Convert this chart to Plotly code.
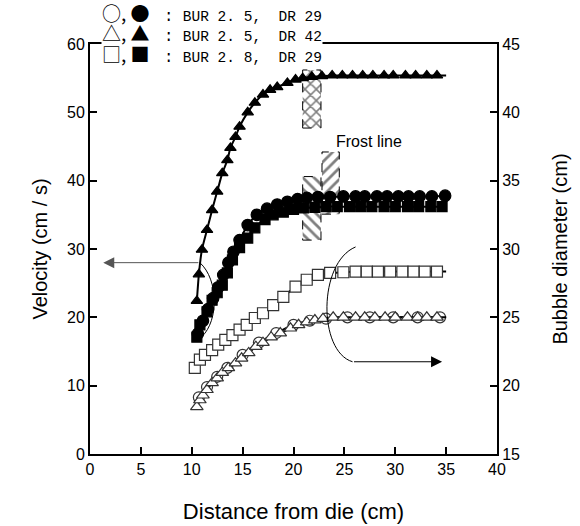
import plotly.graph_objects as go

# ---------------- data ----------------
# Velocity (left axis, cm/s) - filled markers
vel_c_x = [10.6, 11.1, 11.6, 12.1, 12.6, 13.1, 13.6, 14.1, 14.7, 15.5, 16.4, 17.4, 18.4, 19.4, 20.4,
           21.3, 22.4, 23.6, 24.9, 26.1, 27.0, 28.2, 29.2, 30.3, 31.3, 32.4, 33.6, 34.9]
vel_c_y = [17.6, 19.5, 21.2, 22.8, 24.4, 26.2, 28.0, 29.6, 31.3, 33.5, 35.0, 35.9, 36.5, 36.9, 37.3,
           37.5, 37.6, 37.6, 37.7, 37.7, 37.7, 37.7, 37.7, 37.7, 37.7, 37.7, 37.7, 37.8]

vel_t_x = [10.5, 10.7, 11.0, 11.5, 12.0, 12.5, 13.0, 13.5, 13.8, 14.3, 14.7, 15.5, 16.2, 17.0, 17.7,
           18.4, 19.4, 20.2, 20.9, 21.8, 22.8, 23.8, 24.8, 25.8, 26.8, 27.8, 28.9, 29.8, 31.0, 32.0,
           33.1, 34.1]
vel_t_y = [22.4, 26.3, 29.9, 32.8, 35.7, 38.4, 41.1, 43.0, 44.8, 46.4, 47.9, 50.0, 51.4, 52.6, 53.3,
           53.7, 54.3, 54.8, 55.0, 55.2, 55.3, 55.4, 55.4, 55.4, 55.4, 55.4, 55.4, 55.4, 55.4, 55.4,
           55.4, 55.4]

vel_s_x = [10.5, 10.8, 11.5, 12.0, 12.5, 13.0, 13.5, 14.0, 14.7, 15.5, 16.2, 17.2, 18.0, 19.0, 20.0,
           21.0, 22.1, 23.2, 24.3, 25.5, 26.6, 27.7, 28.9, 30.0, 31.2, 32.3, 33.5, 34.6]
vel_s_y = [17.1, 18.9, 20.8, 22.5, 23.6, 24.7, 26.5, 28.4, 30.2, 31.6, 33.1, 34.3, 35.0, 35.4, 35.8,
           36.0, 36.1, 36.2, 36.2, 36.2, 36.2, 36.2, 36.2, 36.2, 36.2, 36.2, 36.2, 36.2]

# Bubble diameter (right axis, cm) - open markers
bub_c_x = [10.7, 11.5, 12.5, 13.5, 15.0, 16.6, 18.3, 20.0, 21.6, 23.2, 25.3, 27.5, 29.8, 32.2, 34.4]
bub_c_y = [19.15, 19.9, 20.65, 21.3, 22.25, 23.15, 23.85, 24.45, 24.75, 24.9, 25.0, 25.0, 25.0, 25.0, 25.0]

bub_t_x = [10.5, 10.8, 11.1, 11.5, 12.0, 12.5, 13.0, 13.6, 14.3, 14.9, 15.6, 16.3, 17.0, 17.8, 18.7,
           19.7, 20.5, 21.3, 22.1, 22.9, 23.9, 24.9, 26.1, 27.0, 28.0, 29.0, 30.0, 31.2, 32.2, 33.1, 34.1]
bub_t_y = [18.45, 18.95, 19.3, 19.7, 20.2, 20.55, 20.95, 21.3, 21.65, 22.0, 22.4, 22.85, 23.15, 23.55,
           23.85, 24.2, 24.45, 24.65, 24.8, 24.9, 25.0, 25.0, 25.0, 25.0, 25.0, 25.0, 25.0, 25.0, 25.0,
           25.0, 25.0]

bub_s_x = [10.3, 10.8, 11.3, 12.0, 12.6, 13.3, 14.0, 14.7, 15.4, 16.2, 17.0, 18.0, 19.0, 20.2, 21.3,
           22.4, 23.6, 24.9, 26.1, 27.2, 28.3, 29.5, 30.7, 31.8, 32.9, 34.1]
bub_s_y = [21.3, 21.9, 22.25, 22.6, 23.0, 23.35, 23.7, 24.1, 24.45, 24.95, 25.3, 25.9, 26.5, 27.25,
           27.75, 28.1, 28.25, 28.3, 28.35, 28.35, 28.35, 28.35, 28.35, 28.35, 28.35, 28.35]

fit_end_x = 35.0

# Frost line boxes (x range in cm, y range in velocity units)
box_x0 = [20.9, 20.9, 22.8]
box_x1 = [22.7, 22.7, 24.5]
box_y0 = [47.7, 31.3, 35.1]
box_y1 = [56.2, 40.6, 44.2]
box_pattern = ["x", "\\", "/"]

# Arrows / brackets (x in cm, y in velocity units)
left_arrow = dict(x_tip=1.3, x_tail=10.8, y=28.0)
left_arc = dict(x0=10.8, y0=28.0, cx=12.65, y_c1=25.5, y_c2=19.5, x1=11.0, y1=17.2)
right_arc = dict(x0=26.1, y0=30.3, cx=22.4, y_c1=28.0, y_c2=15.0, x1=25.8, y1=13.5)
right_arrow = dict(x_tip=34.6, x_tail=25.8, y=13.5)

x_ticks = [0, 5, 10, 15, 20, 25, 30, 35, 40]
legend_rows = [("○, ●", "BUR 2. 5,  DR 29"),
               ("△, ▲", "BUR 2. 5,  DR 42"),
               ("□, ■", "BUR 2. 8,  DR 29")]

# ---------------- figure ----------------
fig = go.Figure()
AX = "Liberation Sans"

# hatched boxes (bars with pattern)
for x0, x1, y0, y1, pat in zip(box_x0, box_x1, box_y0, box_y1, box_pattern):
    fig.add_trace(go.Bar(x=[(x0 + x1) / 2], width=[x1 - x0], base=[y0], y=[y1 - y0],
                         marker=dict(color="white", line=dict(width=0),
                                     pattern=dict(shape=pat, fgcolor="black", bgcolor="white",
                                                  size=8, solidity=0.35)),
                         showlegend=False, hoverinfo="skip"))
ox, oy = [], []
for x0, x1, y0, y1 in zip(box_x0, box_x1, box_y0, box_y1):
    ox += [x0, x1, x1, x0, x0, None]
    oy += [y0, y0, y1, y1, y0, None]
fig.add_trace(go.Scatter(x=ox, y=oy, mode="lines", line=dict(color="black", width=1, dash="dash"),
                         showlegend=False, hoverinfo="skip"))


def add_series(xs, ys, symbol, fill, yaxis, size):
    fig.add_trace(go.Scatter(x=xs + [fit_end_x], y=ys + [ys[-1]], mode="lines", yaxis=yaxis,
                             line=dict(color="black", width=2, shape="spline", smoothing=0.6),
                             showlegend=False, hoverinfo="skip"))
    fig.add_trace(go.Scatter(x=xs, y=ys, mode="markers", yaxis=yaxis,
                             marker=dict(symbol=symbol, size=size, color=fill,
                                         line=dict(color="#333" if fill == "white" else "black", width=1.2)),
                             showlegend=False))


add_series(vel_s_x, vel_s_y, "square", "black", "y", 10)
add_series(vel_c_x, vel_c_y, "circle", "black", "y", 11.5)
add_series(vel_t_x, vel_t_y, "triangle-up", "black", "y", 10)
add_series(bub_s_x, bub_s_y, "square", "white", "y2", 11)
add_series(bub_c_x, bub_c_y, "circle", "white", "y2", 11)
add_series(bub_t_x, bub_t_y, "triangle-up", "white", "y2", 11)

# brackets
la, ra = left_arc, right_arc
fig.add_shape(type="path", xref="x", yref="y", line=dict(color="black", width=1),
              path=f"M {la['x0']},{la['y0']} C {la['cx']},{la['y_c1']} {la['cx']},{la['y_c2']} {la['x1']},{la['y1']}")
fig.add_shape(type="path", xref="x", yref="y", line=dict(color="black", width=1),
              path=f"M {ra['x0']},{ra['y0']} C {ra['cx']},{ra['y_c1']} {ra['cx']},{ra['y_c2']} {ra['x1']},{ra['y1']}")

fig.add_annotation(x=left_arrow["x_tip"], y=left_arrow["y"], ax=left_arrow["x_tail"], ay=left_arrow["y"],
                   xref="x", yref="y", axref="x", ayref="y", showarrow=True, text="",
                   arrowhead=2, arrowsize=2.2, arrowwidth=1, arrowcolor="#555")
fig.add_annotation(x=right_arrow["x_tip"], y=right_arrow["y"], ax=right_arrow["x_tail"], ay=right_arrow["y"],
                   xref="x", yref="y", axref="x", ayref="y", showarrow=True, text="",
                   arrowhead=2, arrowsize=2.2, arrowwidth=1, arrowcolor="black")

fig.add_annotation(x=27.4, y=45.8, xref="x", yref="y", text="Frost line", showarrow=False,
                   font=dict(family=AX, size=16, color="black"))

# legend block
sym = "<span style='font-family:Noto Sans CJK JP;font-size:19px'>{}</span>"
gap = "<span style='font-size:12px'>\u00a0\u00a0</span>"
txt = "<span style='font-size:14.5px'>{}</span>"
lines = [sym.format(s.replace(" ", "\u00a0")) + gap + ":\u00a0" + txt.format(t.replace(" ", "\u00a0"))
         for s, t in legend_rows]
fig.add_annotation(x=(101 - 90) / 407, y=(454 + 2) / 410, xref="paper", yref="paper",
                   xanchor="left", yanchor="top", align="left", showarrow=False,
                   text="<br>".join(lines), bgcolor="white", borderpad=0,
                   font=dict(family="Liberation Mono", size=15.7, color="black"))

axis_common = dict(showgrid=False, zeroline=False, showline=True, linecolor="black", linewidth=2,
                   ticks="inside", ticklen=7, tickwidth=2, tickcolor="black", automargin=False,
                   tickfont=dict(family=AX, size=16, color="black"))
fig.update_layout(
    width=580, height=526, margin=dict(l=90, r=83, t=44, b=72, autoexpand=False),
    paper_bgcolor="white", plot_bgcolor="white", showlegend=False, barmode="overlay",
    xaxis=dict(range=[0, 40], tickvals=x_ticks, mirror=True,
               title=dict(text="Distance from die (cm)", font=dict(family=AX, size=22, color="black"),
                          standoff=26), **axis_common),
    yaxis=dict(range=[0, 60], dtick=10,
               title=dict(text="Velocity (cm / s)", font=dict(family=AX, size=20, color="black"),
                          standoff=14), **axis_common),
    yaxis2=dict(range=[15, 45], dtick=5, overlaying="y", side="right",
                title=dict(text="Bubble diameter (cm)", font=dict(family=AX, size=20, color="black"),
                           standoff=34), **axis_common),
)

fig.write_html("out.html", config={"displayModeBar": False},
               post_script="document.body.style.margin='0px';")
